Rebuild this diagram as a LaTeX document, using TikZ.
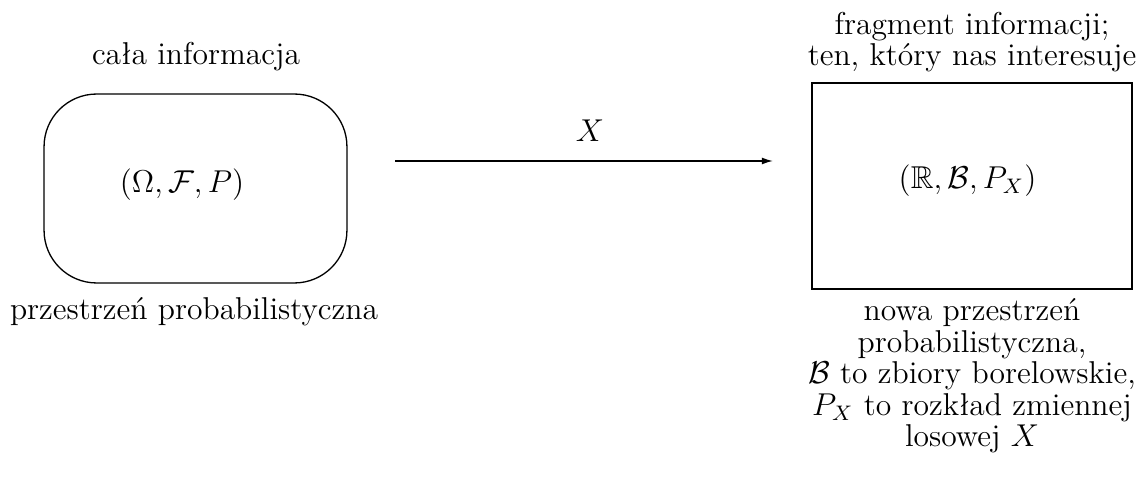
\documentclass[tikz,border=0pt]{standalone}
\usepackage{amssymb}
\usepackage{fontspec}
\usetikzlibrary{arrows.meta}
\begin{document}
\begin{tikzpicture}[x=0.38pt,y=-0.38pt,
  every node/.style={font=\fontsize{12}{12}\selectfont},
  box/.style={draw,line width=0.5pt,inner sep=0pt},
  lbl/.style={inner sep=0pt,anchor=base},
  conn/.style={line width=0.5pt,-{Latex[length=4.2pt,width=2.6pt]}}]
\useasboundingbox (0,0) rectangle (1140,479);
\node[box,rounded corners=20pt,minimum width=115.1pt,minimum height=71.8pt] (omega) at (195.5,188.5) {};
\node[lbl] (omegatxt) at (182,193) {$(\Omega,\mathcal{F},P)$};
\node[box,minimum width=121.6pt,minimum height=78.3pt] (real) at (972,186) {};
\node[lbl] (realtxt) at (967.5,189) {$(\mathbb{R},\mathcal{B},P_X)$};
\node[lbl] (cala) at (196,65) {cała informacja};
\node[lbl] (przes) at (194,320) {przestrzeń probabilistyczna};
\node[lbl] (frag1) at (972,35) {fragment informacji;};
\node[lbl] (frag2) at (972,66) {ten, który nas interesuje};
\node[lbl] (nowa1) at (972,321) {nowa przestrzeń};
\node[lbl] (nowa2) at (972,353) {probabilistyczna,};
\node[lbl] (nowa3) at (972,384) {$\mathcal{B}$ to zbiory borelowskie,};
\node[lbl] (nowa4) at (972,416) {$P_X$ to rozkład zmiennej};
\node[lbl] (nowa5) at (972,447) {losowej $X$};
\coordinate (as) at (395,161);
\coordinate (ae) at (773,161);
\draw[conn] (as) -- (ae);
\node[lbl] (xlbl) at (590,142) {$X$};
\end{tikzpicture}
\end{document}
